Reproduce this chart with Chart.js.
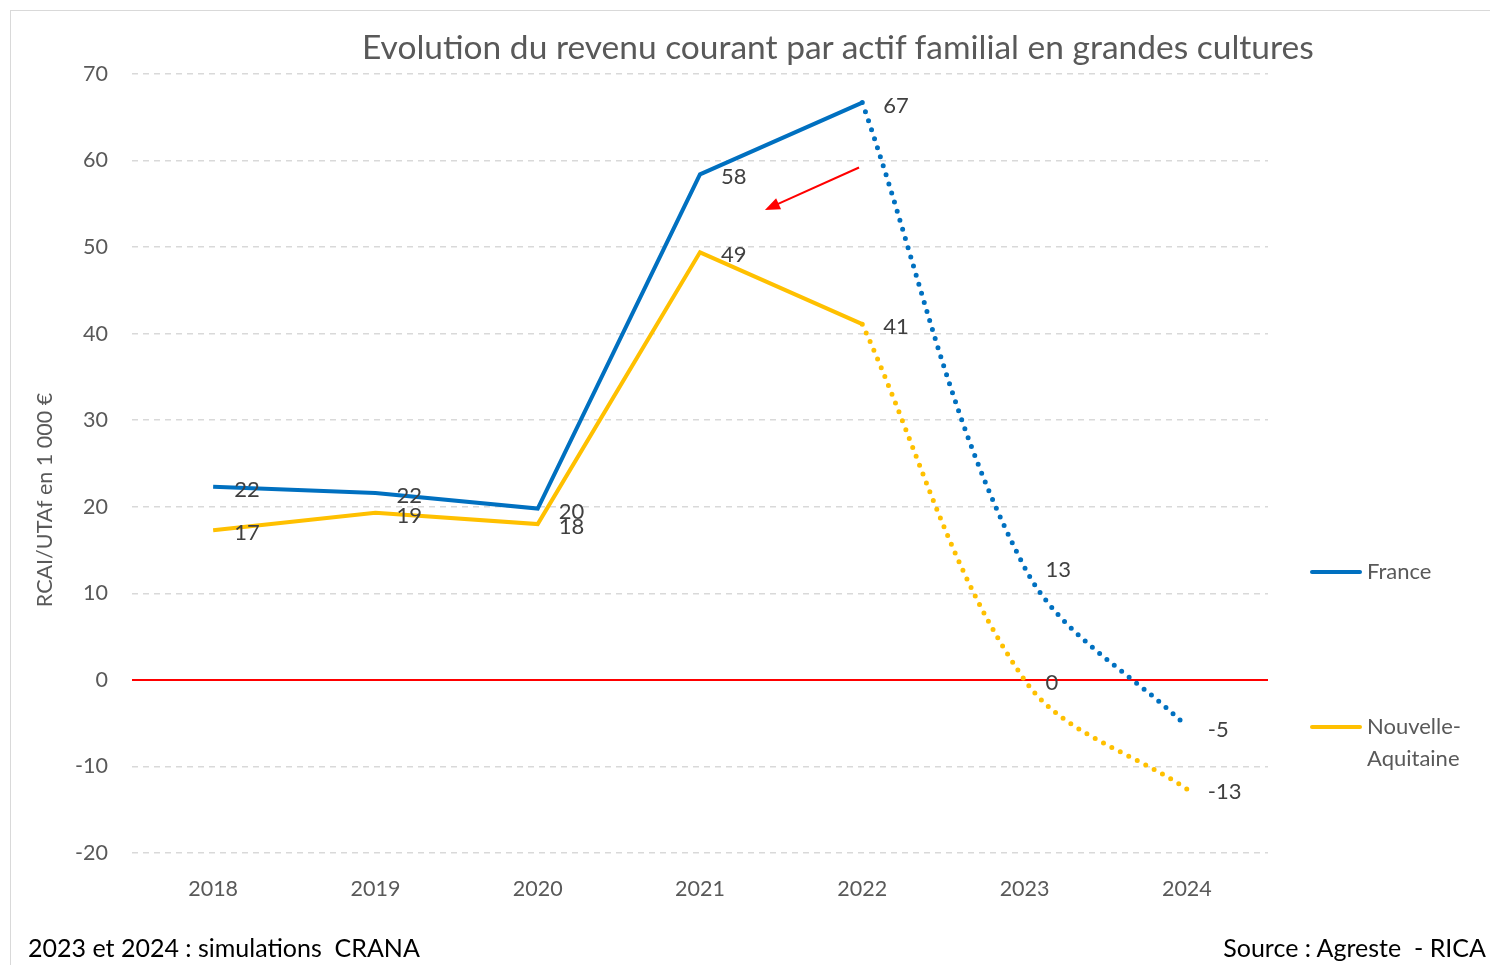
<!DOCTYPE html>
<html>
<head>
<meta charset="utf-8">
<script src="https://cdn.jsdelivr.net/npm/chart.js@4.4.1/dist/chart.umd.min.js"></script>
<style>
  body { margin: 0; background: #fff; font-family: Lato, sans-serif; }
  #wrap { position: relative; width: 1490px; height: 965px; overflow: hidden; }
  #cadre { position: absolute; left: 10px; top: 10px; width: 1500px; height: 1000px; border: 1px solid #d9d9d9; }
  #titre { position: absolute; left: 362px; top: 26px; font-size: 33.5px; line-height: 40px; color: #595959; white-space: nowrap; }
  .note { position: absolute; top: 933px; font-size: 25px; line-height: 28px; color: #000; white-space: nowrap; }
  #graph { position: absolute; left: 0; top: 0; width: 1490px; height: 965px; }
</style>
</head>
<body>
<div id="wrap">
  <div id="cadre"></div>
  <div id="graph"><canvas id="chartRevenu"></canvas></div>
  <div id="titre">Evolution du revenu courant par actif familial en grandes cultures</div>
  <div class="note" style="left:28px">2023 et 2024 : simulations&nbsp; CRANA</div>
  <div class="note" style="right:4px">Source : Agreste&nbsp; - RICA</div>
</div>
<script>
// données (milliers d'euros)
const annees = ["2018", "2019", "2020", "2021", "2022", "2023", "2024"];
const france = [22.3, 21.6, 19.8, 58.4, 66.7, 13.0, -5.4];
const nouvelleAquitaine = [17.3, 19.3, 18.0, 49.4, 41.1, 0.0, -12.6];
const yMin = -20, yMax = 70, yPas = 10;
const derniereAnneeReelle = 4; // 2022, ensuite simulations
const titreAxeY = "RCAI/UTAf en 1 000 €";

// flèche rouge (en coordonnées du graphique)
const flecheDe = [3.98, 59.2];
const flecheVers = [3.40, 54.3];

const bleu = "#0070C0";
const jaune = "#FFC000";

function reel(serie) {
  return serie.map((v, i) => (i <= derniereAnneeReelle ? v : null));
}
function simule(serie) {
  return serie.map((v, i) => (i >= derniereAnneeReelle ? v : null));
}

// ligne du zéro en rouge
const ligneZero = {
  id: "ligneZero",
  beforeDatasetsDraw(chart) {
    const { ctx, chartArea, scales } = chart;
    const y0 = scales.y.getPixelForValue(0);
    ctx.save();
    ctx.strokeStyle = "#FF0000";
    ctx.lineWidth = 2;
    ctx.beginPath();
    ctx.moveTo(chartArea.left, y0);
    ctx.lineTo(chartArea.right, y0);
    ctx.stroke();
    ctx.restore();
  },
};

// titre de l'axe vertical
const titreY = {
  id: "titreY",
  afterDraw(chart) {
    const { ctx, chartArea } = chart;
    ctx.save();
    ctx.translate(45, chartArea.top + 426);
    ctx.rotate(-Math.PI / 2);
    ctx.font = "21.5px Lato";
    ctx.fillStyle = "#595959";
    ctx.textAlign = "center";
    ctx.textBaseline = "middle";
    ctx.fillText(titreAxeY, 0, 0);
    ctx.restore();
  },
};

// étiquettes des valeurs
const etiquettes = {
  id: "etiquettes",
  afterDatasetsDraw(chart) {
    const { ctx, scales } = chart;
    ctx.save();
    ctx.font = "22px Lato";
    ctx.fillStyle = "#404040";
    ctx.textAlign = "left";
    ctx.textBaseline = "middle";
    [france, nouvelleAquitaine].forEach((serie) => {
      serie.forEach((v, i) => {
        const px = scales.x.getPixelForValue(i);
        const py = scales.y.getPixelForValue(v);
        ctx.fillText(String(Math.round(v)), px + 21, py + 3);
      });
    });
    ctx.restore();
  },
};

// flèche
const fleche = {
  id: "fleche",
  afterDatasetsDraw(chart) {
    const { ctx, scales } = chart;
    const x1 = scales.x.getPixelForValue(flecheDe[0]);
    const y1 = scales.y.getPixelForValue(flecheDe[1]);
    const x2 = scales.x.getPixelForValue(flecheVers[0]);
    const y2 = scales.y.getPixelForValue(flecheVers[1]);
    const a = Math.atan2(y2 - y1, x2 - x1);
    const long = 15, larg = 6;
    ctx.save();
    ctx.strokeStyle = "#FF0000";
    ctx.fillStyle = "#FF0000";
    ctx.lineWidth = 2;
    ctx.beginPath();
    ctx.moveTo(x1, y1);
    ctx.lineTo(x2 - Math.cos(a) * long * 0.8, y2 - Math.sin(a) * long * 0.8);
    ctx.stroke();
    ctx.beginPath();
    ctx.moveTo(x2, y2);
    ctx.lineTo(x2 - Math.cos(a) * long - Math.sin(a) * larg, y2 - Math.sin(a) * long + Math.cos(a) * larg);
    ctx.lineTo(x2 - Math.cos(a) * long + Math.sin(a) * larg, y2 - Math.sin(a) * long - Math.cos(a) * larg);
    ctx.closePath();
    ctx.fill();
    ctx.restore();
  },
};

// légende à droite
const legende = {
  id: "legende",
  afterDraw(chart) {
    const { ctx, chartArea } = chart;
    const x0 = chartArea.right + 42;
    const items = [
      { couleur: bleu, lignes: ["France"], y: chartArea.top + 498 },
      { couleur: jaune, lignes: ["Nouvelle-", "Aquitaine"], y: chartArea.top + 653 },
    ];
    ctx.save();
    ctx.font = "22px Lato";
    ctx.fillStyle = "#595959";
    ctx.textBaseline = "middle";
    ctx.lineCap = "round";
    ctx.lineWidth = 4;
    items.forEach((it) => {
      ctx.strokeStyle = it.couleur;
      ctx.beginPath();
      ctx.moveTo(x0 + 2, it.y);
      ctx.lineTo(x0 + 50, it.y);
      ctx.stroke();
      it.lignes.forEach((t, k) => ctx.fillText(t, x0 + 57, it.y + k * 32));
    });
    ctx.restore();
  },
};

new Chart(document.getElementById("chartRevenu"), {
  type: "line",
  data: {
    labels: annees,
    datasets: [
      {
        label: "France",
        data: reel(france),
        borderColor: bleu,
        borderWidth: 4,
        pointRadius: 0,
        tension: 0,
      },
      {
        label: "Nouvelle-Aquitaine",
        data: reel(nouvelleAquitaine),
        borderColor: jaune,
        borderWidth: 4,
        pointRadius: 0,
        tension: 0,
      },
      {
        label: "France (simulation)",
        data: simule(france),
        borderColor: bleu,
        borderWidth: 5,
        borderDash: [0, 9.5],
        borderCapStyle: "round",
        pointRadius: 0,
        tension: 0.35,
      },
      {
        label: "Nouvelle-Aquitaine (simulation)",
        data: simule(nouvelleAquitaine),
        borderColor: jaune,
        borderWidth: 5,
        borderDash: [0, 9.5],
        borderCapStyle: "round",
        pointRadius: 0,
        tension: 0.35,
      },
    ],
  },
  options: {
    responsive: true,
    maintainAspectRatio: false,
    animation: false,
    layout: { padding: { left: 10, right: 222, top: 74, bottom: 0 } },
    scales: {
      x: {
        offset: true,
        grid: { display: false },
        border: { display: false },
        ticks: { color: "#595959", font: { family: "Lato", size: 21.5 }, padding: 15 },
        afterFit: (s) => { s.height = 112; },
      },
      y: {
        min: yMin,
        max: yMax,
        ticks: { stepSize: yPas, color: "#595959", font: { family: "Lato", size: 21.5 }, padding: 24 },
        grid: {
          drawTicks: false,
          color: (c) => (c.tick && c.tick.value === 0 ? "rgba(0,0,0,0)" : "#d9d9d9"),
          lineWidth: 1.5,
        },
        border: { display: false, dash: [6, 5] },
        afterFit: (s) => { s.width = 122; },
      },
    },
    plugins: {
      legend: { display: false },
      tooltip: { enabled: false },
    },
  },
  plugins: [ligneZero, titreY, etiquettes, fleche, legende],
});
</script>
</body>
</html>
